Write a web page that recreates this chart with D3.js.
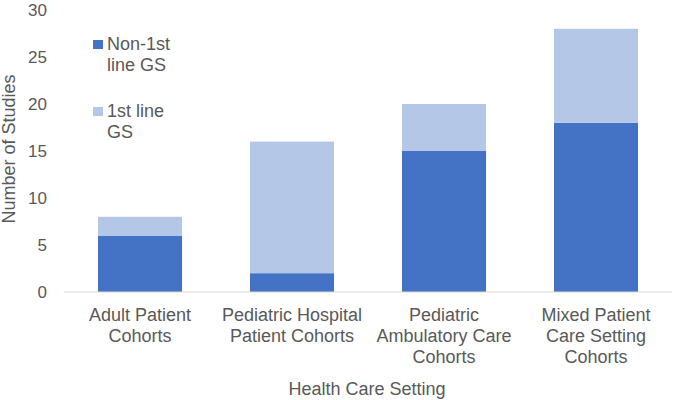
<!DOCTYPE html>
<html>
<head>
<meta charset="utf-8">
<script src="https://cdn.jsdelivr.net/npm/d3@7"></script>
<style>
body { margin: 0; background: #fff; }
text { font-family: "Liberation Sans", Arial, sans-serif; fill: #595959; }
</style>
</head>
<body>
<script>
//chart data
var categories = [
	["Adult Patient", "Cohorts"],
	["Pediatric Hospital", "Patient Cohorts"],
	["Pediatric", "Ambulatory Care", "Cohorts"],
	["Mixed Patient", "Care Setting", "Cohorts"]
];
var seriesNames = ["Non-1st line GS", "1st line GS"];
var non1stLine = [6, 2, 15, 18];
var firstLine = [2, 14, 5, 10];
var yTicks = [0, 5, 10, 15, 20, 25, 30];
var colors = ["#4472C4", "#B4C7E7"];

(function(){

//chart frame
var width = 675, height = 400,
	plotLeft = 64, plotRight = 672, plotTop = 10, plotBottom = 292;

var svg = d3.select("body")
	.append("svg")
	.attr("width", width)
	.attr("height", height);

var x = d3.scaleBand()
	.domain(d3.range(categories.length))
	.range([plotLeft, plotRight])
	.paddingInner(0.447)
	.paddingOuter(0.2235);

var y = d3.scaleLinear()
	.domain([0, 30])
	.range([plotBottom, plotTop]);

//stack the two series
var rows = non1stLine.map(function(v, i){
	return {i: i, a: v, b: firstLine[i]};
});
var stack = d3.stack().keys(["a", "b"])(rows);

svg.selectAll(".series")
	.data(stack)
	.enter()
	.append("g")
	.attr("fill", function(d, k){ return colors[k]; })
	.selectAll("rect")
	.data(function(d){ return d; })
	.enter()
	.append("rect")
	.attr("x", function(d){ return x(d.data.i); })
	.attr("width", x.bandwidth())
	.attr("y", function(d){ return y(d[1]); })
	.attr("height", function(d){ return y(d[0]) - y(d[1]); });

//y axis labels (no line)
var yAxis = svg.append("g")
	.attr("transform", "translate(" + 47 + ",0)")
	.call(d3.axisLeft(y).tickValues(yTicks).tickSize(0).tickPadding(0));
yAxis.select(".domain").remove();
yAxis.selectAll("text")
	.style("font-size", "17px")
	.attr("fill", "#595959")
	.attr("font-family", "Liberation Sans, Arial, sans-serif");

//baseline
svg.append("line")
	.attr("x1", plotLeft).attr("x2", plotRight)
	.attr("y1", y(0)).attr("y2", y(0))
	.attr("stroke", "#d9d9d9")
	.attr("stroke-width", 1);

//category labels
var catLabels = svg.selectAll(".cat")
	.data(categories)
	.enter()
	.append("text")
	.attr("class", "cat")
	.attr("text-anchor", "middle")
	.style("font-size", "18px");
catLabels.selectAll("tspan")
	.data(function(d, i){ return d.map(function(t){ return {t: t, i: i}; }); })
	.enter()
	.append("tspan")
	.attr("x", function(d){ return x(d.i) + x.bandwidth() / 2; })
	.attr("y", function(d, j){ return 321 + j * 21; })
	.text(function(d){ return d.t; });

//axis titles
svg.append("text")
	.attr("x", 367).attr("y", 395)
	.attr("text-anchor", "middle")
	.style("font-size", "18px")
	.text("Health Care Setting");

svg.append("text")
	.attr("transform", "translate(15,149) rotate(-90)")
	.attr("text-anchor", "middle")
	.style("font-size", "18px")
	.text("Number of Studies");

//legend
var legendLines = [["Non-1st", "line GS"], ["1st line", "GS"]];
var legend = svg.selectAll(".legend")
	.data(legendLines)
	.enter()
	.append("g")
	.attr("transform", function(d, i){ return "translate(93," + (40 + i * 67) + ")"; });
legend.append("rect")
	.attr("width", 10).attr("height", 9)
	.attr("fill", function(d, i){ return colors[i]; });
legend.append("text")
	.style("font-size", "18px")
	.selectAll("tspan")
	.data(function(d){ return d; })
	.enter()
	.append("tspan")
	.attr("x", 14)
	.attr("y", function(d, j){ return 10 + j * 21; })
	.text(function(d){ return d; });

})();
</script>
</body>
</html>
